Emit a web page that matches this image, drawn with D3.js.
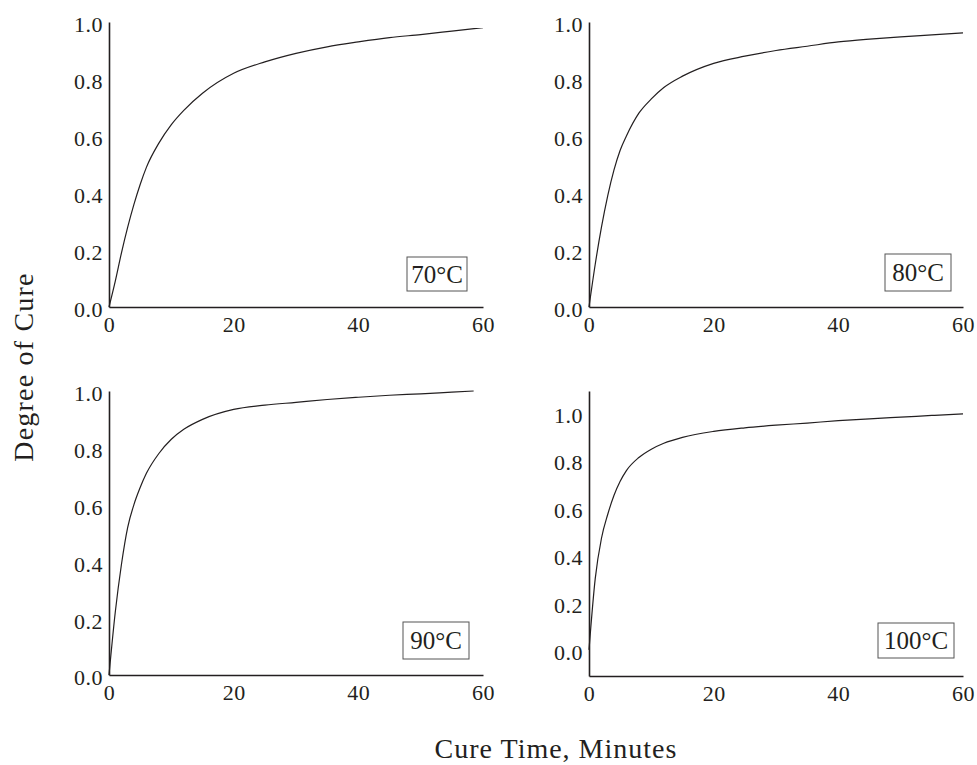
<!DOCTYPE html>
<html>
<head>
<meta charset="utf-8">
<script src="https://cdn.jsdelivr.net/npm/d3@7"></script>
<style>
	body { margin: 0; background: #fff; }
	text { font-family: "Liberation Serif", "Times New Roman", serif; fill: #231f20; }
</style>
</head>
<body>
<div id="chart"></div>
<script>
// cure time in minutes
var times = [0, 1, 2, 3, 4, 5, 6, 8, 10, 12, 15, 20, 25, 30, 35, 40, 45, 50, 55, 60];
var times90 = [0, 1, 2, 3, 4, 5, 6, 8, 10, 12, 15, 20, 25, 30, 35, 40, 45, 50, 55, 58.5];

// degree of cure
var cure70 = [0, 0.09, 0.19, 0.28, 0.36, 0.43, 0.49, 0.575, 0.64, 0.69, 0.75, 0.82, 0.86, 0.89, 0.913, 0.93, 0.945, 0.956, 0.968, 0.98];
var cure80 = [0, 0.15, 0.28, 0.39, 0.48, 0.55, 0.60, 0.68, 0.73, 0.77, 0.81, 0.855, 0.88, 0.90, 0.915, 0.93, 0.94, 0.948, 0.955, 0.962];
var cure90 = [0, 0.22, 0.39, 0.52, 0.60, 0.66, 0.71, 0.78, 0.83, 0.865, 0.90, 0.935, 0.95, 0.96, 0.97, 0.978, 0.985, 0.99, 0.996, 1.0];
var cure100 = [0, 0.30, 0.47, 0.57, 0.65, 0.71, 0.755, 0.81, 0.845, 0.87, 0.895, 0.92, 0.935, 0.946, 0.955, 0.965, 0.973, 0.98, 0.987, 0.994];

var tempLabels = ['70°C', '80°C', '90°C', '100°C'];
var xTicks = [0, 20, 40, 60];
var yTicks = [0, 0.2, 0.4, 0.6, 0.8, 1.0];

var width = 977,
	height = 765;

var svg = d3.select('#chart')
	.append('svg')
	.attr('width', width)
	.attr('height', height);

// panel frames: left/right edge, bottom/top pixel, y domain
var panels = [
	{x0: 109, x1: 483, y0: 307, y1: 22, dom: [0, 1], t: times, v: cure70, box: [407, 257, 60, 34]},
	{x0: 589, x1: 963, y0: 307, y1: 22, dom: [0, 1], t: times, v: cure80, box: [885, 254, 66, 37]},
	{x0: 109, x1: 483, y0: 675, y1: 391, dom: [0, 1], t: times90, v: cure90, box: [403, 622, 66, 37]},
	{x0: 589, x1: 963, y0: 676, y1: 391, dom: [-0.11, 1.09], t: times, v: cure100, box: [878, 623, 76, 35]}
];

panels.forEach(function(p, i) {
	var x = d3.scaleLinear().domain([0, 60]).range([p.x0, p.x1]);
	var y = d3.scaleLinear().domain(p.dom).range([p.y0, p.y1]);

	var g = svg.append('g');

	var xAxis = g.append('g')
		.attr('transform', 'translate(0,' + p.y0 + ')')
		.call(d3.axisBottom(x).tickValues(xTicks).tickSize(0).tickPadding(9).tickFormat(d3.format('d')));

	var yAxis = g.append('g')
		.attr('transform', 'translate(' + p.x0 + ',0)')
		.call(d3.axisLeft(y).tickValues(yTicks).tickSize(0).tickPadding(6).tickFormat(d3.format('.1f')));

	[xAxis, yAxis].forEach(function(a) {
		a.select('.domain').attr('stroke', '#231f20').attr('stroke-width', 1.6);
		a.selectAll('text')
			.style('font-family', '"Liberation Serif", serif')
			.style('font-size', '22px')
			.style('letter-spacing', '0.5px')
			.attr('fill', '#231f20');
	});
	yAxis.selectAll('text').attr('dy', '0.45em');

	var line = d3.line()
		.x(function(d) { return x(d[0]); })
		.y(function(d) { return y(d[1]); })
		.curve(d3.curveMonotoneX);

	g.append('path')
		.datum(d3.zip(p.t, p.v))
		.attr('d', line)
		.attr('fill', 'none')
		.attr('stroke', '#231f20')
		.attr('stroke-width', 1.2);

	g.append('rect')
		.attr('x', p.box[0])
		.attr('y', p.box[1])
		.attr('width', p.box[2])
		.attr('height', p.box[3])
		.attr('fill', '#fff')
		.attr('stroke', '#555')
		.attr('stroke-width', 1);

	g.append('text')
		.attr('x', p.box[0] + p.box[2] / 2)
		.attr('y', p.box[1] + p.box[3] / 2)
		.attr('dy', '0.35em')
		.attr('text-anchor', 'middle')
		.style('font-size', '25px')
		.text(tempLabels[i]);
});

svg.append('text')
	.attr('text-anchor', 'middle')
	.attr('transform', 'translate(33,367) rotate(-90)')
	.style('font-size', '28px')
	.style('letter-spacing', '1.2px')
	.text('Degree of Cure');

svg.append('text')
	.attr('text-anchor', 'middle')
	.attr('x', 556)
	.attr('y', 758)
	.style('font-size', '28px')
	.style('letter-spacing', '1px')
	.text('Cure Time, Minutes');
</script>
</body>
</html>
